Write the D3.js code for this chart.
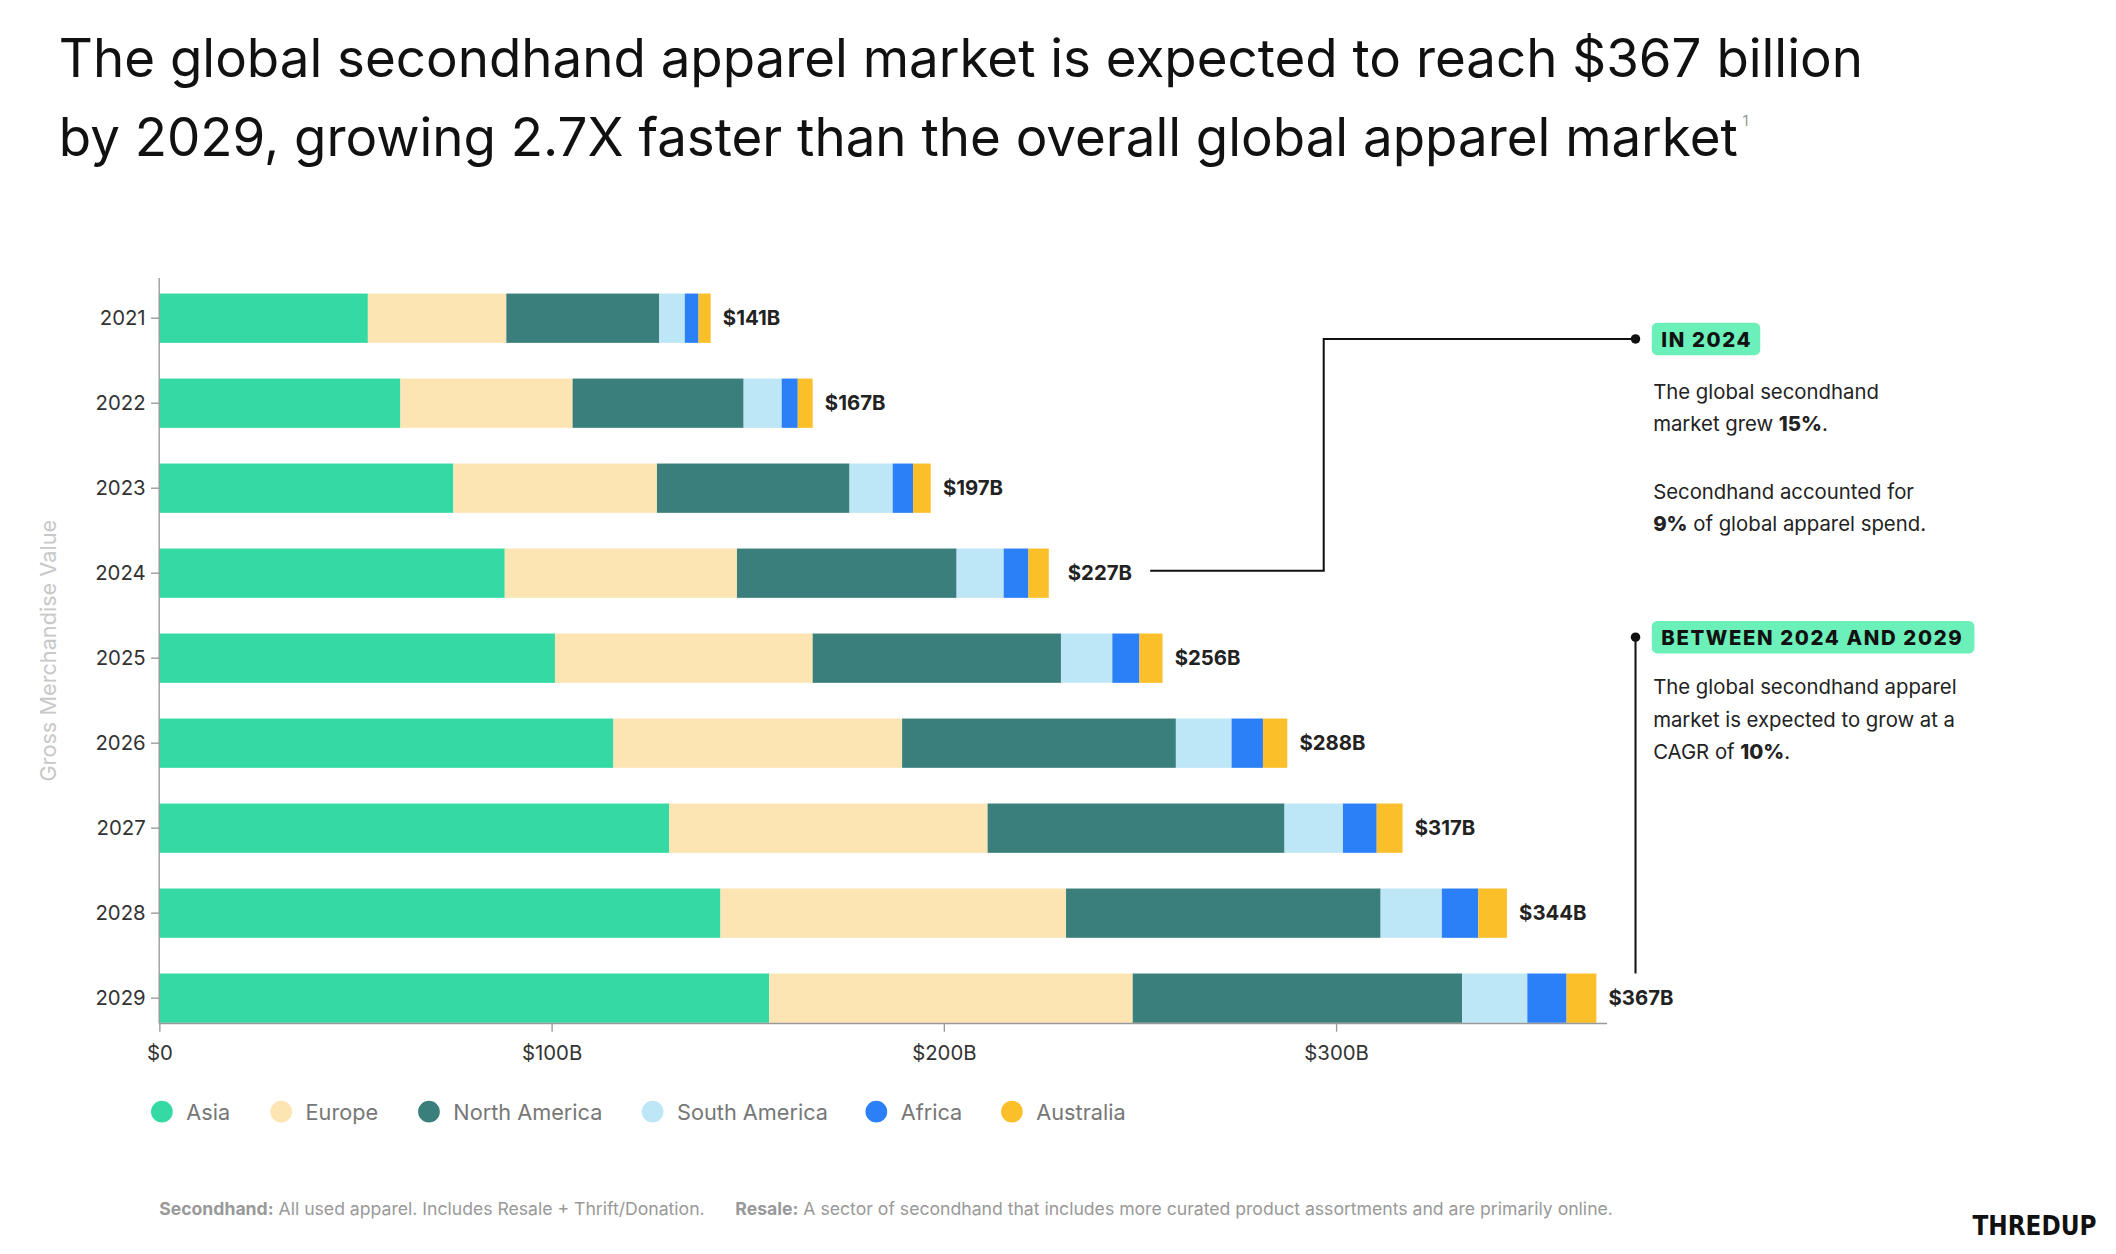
<!DOCTYPE html>
<html><head><meta charset="utf-8">
<script src="https://cdn.jsdelivr.net/npm/d3@7"></script>
<style>
body{margin:0;background:#fff;}
svg{font-family:"Inter","Lato",sans-serif;}
</style></head>
<body><svg id="chart" width="2116" height="1254" viewBox="0 0 1560 925"></svg>
<script>
// data ($ billions)
var years = ["2021","2022","2023","2024","2025","2026","2027","2028","2029"];
var regions = ["Asia","Europe","North America","South America","Africa","Australia"];
var asia = [53.2, 61.5, 75, 88.1, 100.9, 115.8, 130, 143.1, 155.5];
var europe = [35.3, 43.9, 51.9, 59.2, 65.7, 73.6, 81.2, 88.1, 92.7];
var northAmerica = [39, 43.6, 49.1, 56, 63.3, 69.8, 75.7, 80.2, 84];
var southAmerica = [6.5, 9.7, 11, 12, 13.1, 14.2, 14.9, 15.6, 16.6];
var africa = [3.5, 4.1, 5.2, 6.3, 6.9, 8, 8.6, 9.3, 10];
var australia = [3.1, 3.8, 4.5, 5.2, 5.9, 6.2, 6.6, 7.3, 7.6];
var totals = ["$141B","$167B","$197B","$227B","$256B","$288B","$317B","$344B","$367B"];
var xTicks = [0, 100, 200, 300];
var colors = ["#34d9a3","#fde4b3","#3a7f7c","#bde6f7","#2b7ff7","#fbbf2a"];

var svg = d3.select("#chart");

// title
svg.append("text").attr("x",43).attr("y",57).attr("font-size",39).attr("fill","#111")
  .text("The global secondhand apparel market is expected to reach $367 billion");
var t2 = svg.append("text").attr("x",43).attr("y",115).attr("font-size",39).attr("fill","#111")
  .text("by 2029, growing 2.7X faster than the overall global apparel market");
svg.append("text").attr("x",1285).attr("y",93).attr("font-size",11).attr("fill","#999").text("1");

var x = d3.scaleLinear().domain([0,300]).range([117,985]);
var y = d3.scaleBand().domain(years).range([204,767]).paddingInner(0.42).paddingOuter(0.2);

// stack
var rows = years.map(function(yr,i){
  return {year:yr, Asia:asia[i], Europe:europe[i], "North America":northAmerica[i],
    "South America":southAmerica[i], Africa:africa[i], Australia:australia[i]};
});
var series = d3.stack().keys(regions)(rows);
series.forEach(function(s,k){
  svg.append("g").selectAll("rect").data(s).join("rect")
    .attr("x",d=>x(d[0])).attr("width",d=>x(d[1])-x(d[0]))
    .attr("y",d=>y(d.data.year)).attr("height",y.bandwidth())
    .attr("fill",colors[k]);
});

// totals
var ends = rows.map(r=>regions.reduce((a,k)=>a+r[k],0));
years.forEach(function(yr,i){
  svg.append("text").attr("x",x(ends[i])+(i==3?14:9)).attr("y",y(yr)+y.bandwidth()/2+5)
    .attr("font-size",15).attr("font-weight",700).attr("fill","#222").text(totals[i]);
});

// axes
var yAxis = svg.append("g").attr("transform","translate(117,0)")
  .call(d3.axisLeft(y).tickSize(6).tickPadding(4));
yAxis.select(".domain").attr("d","M0,205V755").attr("stroke","#999");
yAxis.selectAll("line").attr("stroke","#999");
yAxis.selectAll("text").attr("font-size",15).attr("fill","#333").attr("font-family","Inter,sans-serif");

var xAxis = svg.append("g").attr("transform","translate(0,755)")
  .call(d3.axisBottom(x).tickValues(xTicks).tickSize(6).tickFormat(d=>"$"+d+(d?"B":"")));
xAxis.select(".domain").attr("d","M117,0H1185").attr("stroke","#999");
xAxis.selectAll("line").attr("stroke","#999");
xAxis.selectAll("text").attr("font-size",15).attr("fill","#333").attr("dy","1.2em").attr("font-family","Inter,sans-serif");

svg.append("text").attr("transform","translate(41,480) rotate(-90)").attr("text-anchor","middle")
  .attr("font-size",16).attr("fill","#c8c8c8").text("Gross Merchandise Value");

// legend
var legX = [119,207,316,481,646,746];
regions.forEach(function(r,k){
  svg.append("circle").attr("cx",legX[k]).attr("cy",820).attr("r",8).attr("fill",colors[k]);
  svg.append("text").attr("x",legX[k]+18).attr("y",826).attr("font-size",16).attr("fill","#777").text(r);
});

// annotations
svg.append("path").attr("d","M848,421H976V250H1205").attr("fill","none").attr("stroke","#111").attr("stroke-width",1.5);
svg.append("circle").attr("cx",1206).attr("cy",250).attr("r",3.5).attr("fill","#111");
svg.append("path").attr("d","M1206,470V718").attr("fill","none").attr("stroke","#111").attr("stroke-width",1.5);
svg.append("circle").attr("cx",1206).attr("cy",470).attr("r",3.5).attr("fill","#111");

function badge(xp,yp,w,txt){
  svg.append("rect").attr("x",xp).attr("y",yp).attr("width",w).attr("height",24).attr("rx",4).attr("fill","#6cf0b9");
  svg.append("text").attr("x",xp+7).attr("y",yp+18).attr("font-size",15).attr("font-weight",800)
    .attr("letter-spacing",1.2).attr("fill","#111").text(txt);
}
badge(1218,238,80,"IN 2024");
badge(1218,458,238,"BETWEEN 2024 AND 2029");

function para(xp,yp,lines){
  lines.forEach(function(l,i){
    var t = svg.append("text").attr("x",xp).attr("y",yp+i*24).attr("font-size",15).attr("fill","#222");
    l.forEach(function(seg){ t.append("tspan").attr("font-weight",seg[1]?800:400).text(seg[0]); });
  });
}
para(1219,294,[[["The global secondhand",0]],[["market grew ",0],["15%",1],[".",0]]]);
para(1219,368,[[["Secondhand accounted for",0]],[["9%",1],[" of global apparel spend.",0]]]);
para(1219,512,[[["The global secondhand apparel",0]],[["market is expected to grow at a",0]],[["CAGR of ",0],["10%",1],[".",0]]]);

// footer
var f = svg.append("text").attr("x",117).attr("y",896).attr("font-size",13).attr("fill","#999");
f.append("tspan").attr("font-weight",700).text("Secondhand:");
f.append("tspan").text(" All used apparel. Includes Resale + Thrift/Donation.");
f.append("tspan").attr("x",542).attr("font-weight",700).text("Resale:");
f.append("tspan").text(" A sector of secondhand that includes more curated product assortments and are primarily online.");
svg.append("text").attr("x",1546).attr("y",911).attr("text-anchor","end").attr("font-size",19)
  .attr("font-weight",900).attr("font-family","'DejaVu Sans Condensed','Liberation Sans Narrow',sans-serif")
  .attr("fill","#111").text("THREDUP");
</script></body></html>
